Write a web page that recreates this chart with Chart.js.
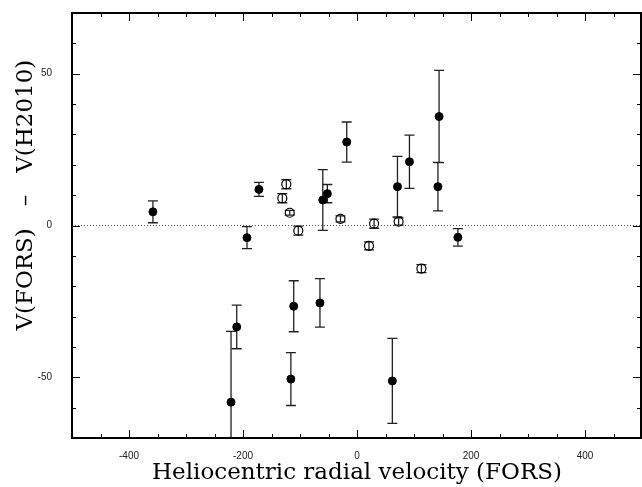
<!DOCTYPE html>
<html>
<head>
<meta charset="utf-8">
<script src="https://cdn.jsdelivr.net/npm/chart.js@4.4.0/dist/chart.umd.min.js"></script>
<style>
  html, body { margin: 0; padding: 0; background: #fff; }
  #wrap { width: 642px; height: 487px; }
</style>
</head>
<body>
<div id="wrap"><canvas id="chart"></canvas></div>
<script>
// filled circles
const filledX = [-358, -193, -172, -60, -52, -18, 71, 92, 144, 142, 177, -211, -221, -111, -65, -116, 62];
const filledY = [4.5, -4.0, 11.9, 8.4, 10.5, 27.5, 12.8, 21.0, 35.9, 12.8, -3.9, -33.4, -58.2, -26.6, -25.5, -50.6, -51.2];
const filledErr = [3.6, 3.6, 2.3, 10, 3, 6.6, 10, 8.8, 15.2, 8, 2.9, 7.2, 23.3, 8.4, 8, 8.7, 14];

// open circles
const openX = [-124, -131, -118, -103, -29, 30, 21, 73, 113];
const openY = [13.6, 9.0, 4.2, -1.7, 2.2, 0.6, -6.7, 1.3, -14.2];
const openErr = [1.5, 1.5, 0.8, 1.5, 1, 1.5, 1.3, 1.2, 1.3];

const xTicks = [-400, -200, 0, 200, 400];
const yTicks = [-50, 0, 50];
const xRange = [-500, 500];
const yRange = [-70, 70];

const xTitle = 'Heliocentric radial velocity (FORS)';
const yTitle = 'V(FORS)   \u2013   V(H2010)';

const toPoints = (xs, ys, es) => xs.map((x, i) => ({ x: x, y: ys[i], err: es[i] }));

// error bars drawn through the scales
const errorBars = {
    id: 'errorBars',
    beforeDatasetsDraw(chart) {
        const { ctx, chartArea, scales: { x, y } } = chart;
        ctx.save();
        ctx.beginPath();
        ctx.rect(chartArea.left, chartArea.top, chartArea.right - chartArea.left, chartArea.bottom - chartArea.top);
        ctx.clip();
        ctx.strokeStyle = '#222';
        ctx.lineWidth = 1.3;
        chart.data.datasets.forEach(ds => {
            if (!ds.errors) return;
            ds.data.forEach(p => {
                const px = x.getPixelForValue(p.x);
                const top = y.getPixelForValue(p.y + p.err);
                const bot = y.getPixelForValue(p.y - p.err);
                ctx.beginPath();
                ctx.moveTo(px, top); ctx.lineTo(px, bot);
                ctx.moveTo(px - 5, top); ctx.lineTo(px + 5, top);
                ctx.moveTo(px - 5, bot); ctx.lineTo(px + 5, bot);
                ctx.stroke();
            });
        });
        ctx.restore();
    }
};

// frame, inward ticks and the y title
const frame = {
    id: 'frame',
    afterDraw(chart) {
        const { ctx, chartArea: a, scales: { x, y } } = chart;
        const right = a.right - 1;
        ctx.save();
        ctx.strokeStyle = '#000';
        ctx.lineWidth = 1;
        ctx.beginPath();
        for (let v = xRange[0]; v <= xRange[1]; v += 50) {
            const px = Math.round(x.getPixelForValue(v)) + 0.5;
            const len = v % 200 === 0 ? 8 : 4;
            ctx.moveTo(px, a.bottom); ctx.lineTo(px, a.bottom - len);
            ctx.moveTo(px, a.top); ctx.lineTo(px, a.top + len);
        }
        for (let v = yRange[0]; v <= yRange[1]; v += 10) {
            const py = Math.round(y.getPixelForValue(v)) + 0.5;
            const len = v % 50 === 0 ? 8 : 4;
            ctx.moveTo(a.left, py); ctx.lineTo(a.left + len, py);
            ctx.moveTo(right, py); ctx.lineTo(right - len, py);
        }
        ctx.stroke();
        ctx.lineWidth = 2;
        ctx.strokeRect(a.left, a.top, right - a.left, a.bottom - a.top);

        // y title sits a bit above the middle, as in the original
        ctx.translate(26, y.getPixelForValue(10));
        ctx.rotate(-Math.PI / 2);
        ctx.fillStyle = '#000';
        ctx.font = '23px "DejaVu Serif"';
        ctx.textAlign = 'center';
        ctx.textBaseline = 'middle';
        ctx.fillText(yTitle, 0, 0);
        ctx.restore();
    }
};

new Chart(document.getElementById('chart'), {
    type: 'scatter',
    data: {
        datasets: [
            {
                type: 'line',
                data: [{ x: xRange[0], y: 0 }, { x: xRange[1], y: 0 }],
                borderColor: '#555',
                borderWidth: 1,
                borderDash: [1, 2],
                pointRadius: 0
            },
            {
                data: toPoints(filledX, filledY, filledErr),
                errors: true,
                pointRadius: 4,
                pointBackgroundColor: '#000',
                pointBorderColor: '#000',
                pointBorderWidth: 1
            },
            {
                data: toPoints(openX, openY, openErr),
                errors: true,
                pointRadius: 4.5,
                pointBackgroundColor: 'rgba(255,255,255,0)',
                pointBorderColor: '#000',
                pointBorderWidth: 1.2
            }
        ]
    },
    options: {
        responsive: true,
        maintainAspectRatio: false,
        animation: false,
        layout: { autoPadding: false, padding: { top: 13, right: 0, left: 0, bottom: 0 } },
        plugins: { legend: { display: false }, tooltip: { enabled: false } },
        scales: {
            x: {
                type: 'linear',
                min: xRange[0],
                max: xRange[1],
                afterBuildTicks: s => { s.ticks = xTicks.map(v => ({ value: v })); },
                afterFit: s => { s.height = 49; s.paddingLeft = 0; s.paddingRight = 0; },
                grid: { display: false },
                border: { display: false },
                ticks: { color: '#222', padding: 4, font: { family: 'Liberation Sans', size: 10 } },
                title: {
                    display: true,
                    text: xTitle,
                    color: '#000',
                    padding: { top: 0, bottom: 0 },
                    font: { family: 'DejaVu Serif', size: 23 }
                }
            },
            y: {
                type: 'linear',
                min: yRange[0],
                max: yRange[1],
                afterBuildTicks: s => { s.ticks = yTicks.map(v => ({ value: v })); },
                afterFit: s => { s.width = 72; s.paddingTop = 0; s.paddingBottom = 0; },
                grid: { display: false },
                border: { display: false },
                ticks: { color: '#222', padding: 12, font: { family: 'Liberation Sans', size: 10 } },
                title: { display: false }
            }
        }
    },
    plugins: [errorBars, frame]
});
</script>
</body>
</html>
